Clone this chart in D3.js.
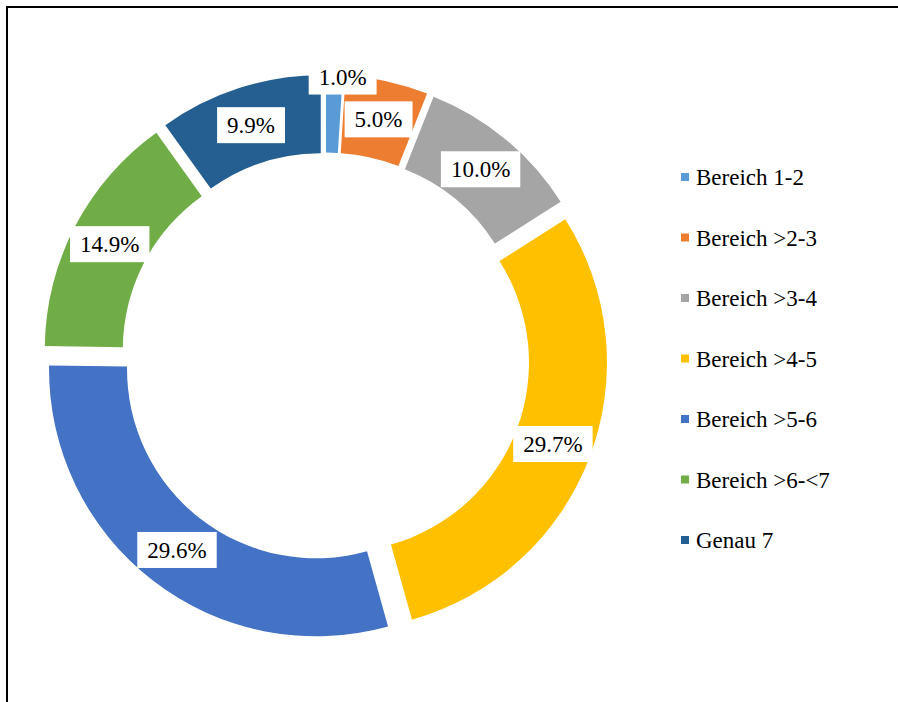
<!DOCTYPE html>
<html>
<head>
<meta charset="utf-8">
<script src="https://cdn.jsdelivr.net/npm/d3@7"></script>
<style>
  html, body { margin: 0; padding: 0; background: #fff; }
  svg { display: block; }
</style>
</head>
<body>
<svg id="chart" width="898" height="702" font-family="'Liberation Serif', 'Times New Roman', Times, 'DejaVu Serif', serif"></svg>
<script>
// ---- data ----
const categories = ["Bereich 1-2", "Bereich >2-3", "Bereich >3-4", "Bereich >4-5", "Bereich >5-6", "Bereich >6-<7", "Genau 7"];
const values = [1.0, 5.0, 10.0, 29.7, 29.6, 14.9, 9.9];
const valueLabels = ["1.0%", "5.0%", "10.0%", "29.7%", "29.6%", "14.9%", "9.9%"];
const colors = ["#5B9BD5", "#ED7D31", "#A5A5A5", "#FFC000", "#4472C4", "#70AD47", "#255E91"];
// label placement: "mid" = ring centre, "outer" = pushed to outer edge at slice end
const labelPlacement = ["outer", "mid", "mid", "mid", "mid", "mid", "mid"];

// ---- layout ----
const svg = d3.select("#chart");
const W = 898, H = 702;
const cx = 325.5, cy = 357;
const outerR = 267, innerR = 189, explode = 15.5;
const FONT = "'Liberation Serif', 'Times New Roman', Times, 'DejaVu Serif', serif";

svg.append("rect").attr("width", W).attr("height", H).attr("fill", "#fff");
svg.append("path")
  .attr("d", `M7,${H} L7,7 L${W},7`)
  .attr("fill", "none").attr("stroke", "#000").attr("stroke-width", 2);

const pie = d3.pie().sort(null).value(d => d.v).startAngle(0).endAngle(2 * Math.PI);
const data = categories.map((c, i) => ({ c, v: values[i], lab: valueLabels[i], col: colors[i], place: labelPlacement[i] }));
const arcs = pie(data);
const arc = d3.arc().innerRadius(innerR).outerRadius(outerR);

const g = svg.append("g").attr("transform", `translate(${cx},${cy})`);

function offset(a) {
  const m = (a.startAngle + a.endAngle) / 2;
  return [explode * Math.sin(m), -explode * Math.cos(m)];
}

g.selectAll("path.slice").data(arcs).enter().append("path")
  .attr("class", "slice")
  .attr("d", arc)
  .attr("fill", d => d.data.col)
  .attr("transform", d => { const o = offset(d); return `translate(${o[0]},${o[1]})`; });

// labels
const labG = g.selectAll("g.lab").data(arcs).enter().append("g")
  .attr("class", "lab")
  .attr("transform", d => {
    const o = offset(d);
    let ang, rho;
    if (d.data.place === "outer") { ang = d.endAngle; rho = outerR - 1.5; }
    else { ang = (d.startAngle + d.endAngle) / 2; rho = (innerR + outerR) / 2; }
    return `translate(${o[0] + rho * Math.sin(ang)},${o[1] - rho * Math.cos(ang)})`;
  });

labG.each(function(d) {
  const sel = d3.select(this);
  const rect = sel.append("rect").attr("fill", "#fff");
  const t = sel.append("text")
    .attr("text-anchor", "middle")
    .attr("y", 8)
    .attr("font-family", FONT)
    .attr("font-size", 23)
    .attr("fill", "#000")
    .text(d.data.lab);
  const w = t.node().getComputedTextLength() + 20;
  rect.attr("x", -w / 2).attr("y", -18).attr("width", w).attr("height", 36);
});

// legend
const legendY = d3.scalePoint().domain(categories).range([177, 540]);
const leg = svg.append("g");
const items = leg.selectAll("g").data(data).enter().append("g")
  .attr("transform", d => `translate(681,${legendY(d.c)})`);
items.append("rect").attr("x", 0).attr("y", -4).attr("width", 8).attr("height", 8).attr("fill", d => d.col);
items.append("text").attr("x", 15).attr("y", 8).attr("font-family", FONT).attr("font-size", 23).attr("fill", "#000").text(d => d.c);
</script>
</body>
</html>
